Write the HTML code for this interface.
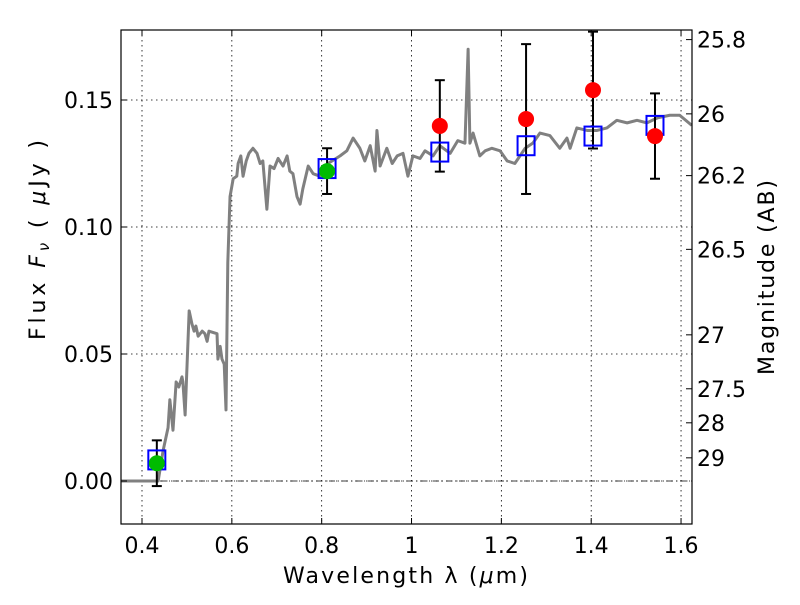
<!DOCTYPE html>
<html><head><meta charset="utf-8"><style>
body{margin:0;background:#fff;width:800px;height:600px;overflow:hidden}
svg text{font-family:"DejaVu Sans","Liberation Sans",sans-serif;fill:#000}
</style></head><body>
<svg id="chart" width="800" height="600" xmlns="http://www.w3.org/2000/svg"></svg>
<script>
const specW=[0.353,0.436,0.447,0.458,0.462,0.469,0.476,0.482,0.489,0.491,0.496,0.505,0.511,0.516,0.520,0.525,0.534,0.540,0.545,0.549,0.567,0.569,0.574,0.578,0.583,0.587,0.591,0.596,0.603,0.611,0.614,0.620,0.625,0.632,0.638,0.647,0.656,0.663,0.669,0.678,0.685,0.694,0.703,0.714,0.723,0.729,0.736,0.745,0.752,0.758,0.770,0.781,0.796,0.814,0.841,0.856,0.870,0.885,0.896,0.908,0.919,0.923,0.930,0.945,0.957,0.968,0.981,0.992,1.003,1.019,1.030,1.048,1.063,1.086,1.103,1.119,1.126,1.130,1.137,1.152,1.164,1.179,1.197,1.213,1.230,1.253,1.270,1.286,1.308,1.330,1.346,1.353,1.368,1.391,1.413,1.435,1.457,1.480,1.502,1.524,1.548,1.575,1.597,1.624];
const specF=[0.000,0.000,0.012,0.021,0.032,0.020,0.039,0.037,0.041,0.039,0.026,0.067,0.062,0.059,0.061,0.057,0.059,0.058,0.055,0.059,0.058,0.048,0.053,0.048,0.046,0.028,0.086,0.112,0.119,0.120,0.125,0.128,0.120,0.126,0.129,0.131,0.129,0.125,0.126,0.107,0.124,0.123,0.127,0.124,0.128,0.122,0.121,0.112,0.109,0.115,0.124,0.121,0.120,0.125,0.128,0.130,0.135,0.131,0.126,0.132,0.122,0.138,0.124,0.131,0.125,0.128,0.129,0.120,0.128,0.127,0.130,0.128,0.132,0.129,0.134,0.133,0.170,0.133,0.137,0.128,0.130,0.131,0.130,0.126,0.125,0.131,0.133,0.137,0.136,0.131,0.135,0.131,0.139,0.138,0.138,0.139,0.142,0.141,0.142,0.141,0.143,0.144,0.144,0.140];
const photW=[0.433,0.812,1.063,1.255,1.404,1.542];
const modelF=[0.0083,0.123,0.1295,0.132,0.1358,0.140];
const obsF=[0.007,0.122,0.1398,0.1425,0.1539,0.1358];
const obsErr=[0.009,0.009,0.018,0.0295,0.023,0.0168];
const obsColor=["#00bb00","#00bb00","#ff0000","#ff0000","#ff0000","#ff0000"];
const xTicks=[0.4,0.6,0.8,1.0,1.2,1.4,1.6];
const xTickLabels=["0.4","0.6","0.8","1","1.2","1.4","1.6"];
const yTicks=[0,0.05,0.10,0.15];
const yTickLabels=["0.00","0.05","0.10","0.15"];
const magTicks=[25.8,26,26.2,26.5,27,27.5,28,29];
const magLabels=["25.8","26","26.2","26.5","27","27.5","28","29"];

const L=121,R=692,T=30,B=524;
const X=w=>142+(w-0.4)*449.2;
const Y=f=>481-f*2540;
const svg=document.getElementById('chart');
const NS='http://www.w3.org/2000/svg';
function mk(tag,attrs,parent){const e=document.createElementNS(NS,tag);for(const k in attrs)e.setAttribute(k,attrs[k]);(parent||svg).appendChild(e);return e;}

const clip=mk('clipPath',{id:'c'});mk('rect',{x:L,y:T,width:R-L,height:B-T},clip);
xTicks.forEach((t,i)=>{const g=mk('line',{x1:X(t),x2:X(t),y1:T,y2:B,stroke:'#000','stroke-width':0.8,'stroke-dasharray':'1.5,3.5'});
});
yTicks.forEach(t=>{const g=mk('line',{x1:L,x2:R,y1:Y(t),y2:Y(t),stroke:'#000','stroke-width':0.8,'stroke-dasharray':'1.5,3.5'});
});
const z=mk('line',{x1:L,x2:R,y1:Y(0),y2:Y(0),stroke:'#000','stroke-width':0.8,'stroke-dasharray':'6,3,1,3'});

const sp=mk('polyline',{points:specW.map((w,i)=>X(w)+','+Y(specF[i])).join(' '),fill:'none',stroke:'#808080','stroke-width':3,'stroke-linejoin':'round','clip-path':'url(#c)'});

photW.forEach((w,i)=>{
 const x=X(w);
 const e=mk('g',{'clip-path':'url(#c)'});
 
 const y1=Y(obsF[i]+obsErr[i]),y2=Y(obsF[i]-obsErr[i]);
 mk('line',{x1:x,x2:x,y1:y1,y2:y2,stroke:'#000','stroke-width':2},e);
 mk('line',{x1:x-5,x2:x+5,y1:y1,y2:y1,stroke:'#000','stroke-width':2},e);
 mk('line',{x1:x-5,x2:x+5,y1:y2,y2:y2,stroke:'#000','stroke-width':2},e);
 const s=mk('rect',{x:x-8.5,y:Y(modelF[i])-9.5,width:17,height:19,fill:'none',stroke:'#0000ff','stroke-width':2});
 
 const c=mk('circle',{cx:x,cy:Y(obsF[i]),r:8,fill:obsColor[i]});
 
});
const fr=mk('rect',{x:L,y:T,width:R-L,height:B-T,fill:'none',stroke:'#000','stroke-width':1.2});

xTicks.forEach((t,i)=>{const x=X(t);
 mk('line',{x1:x,x2:x,y1:B,y2:B-6,stroke:'#000'});mk('line',{x1:x,x2:x,y1:T,y2:T+6,stroke:'#000'});
 const tx=mk('text',{x:x,y:553,'font-size':22,'text-anchor':'middle'});tx.textContent=xTickLabels[i];
 });
yTicks.forEach((t,i)=>{const y=Y(t);
 mk('line',{x1:L,x2:L+6,y1:y,y2:y,stroke:'#000'});
 const tx=mk('text',{x:113,y:y+8,'font-size':22,'text-anchor':'end'});tx.textContent=yTickLabels[i];
 });
magTicks.forEach((m,i)=>{const y=Y(Math.pow(10,(23.9-m)/2.5));
 mk('line',{x1:R,x2:R-6,y1:y,y2:y,stroke:'#000'});
 const tx=mk('text',{x:697,y:y+8,'font-size':22,'text-anchor':'start'});tx.textContent=magLabels[i];
 });
</script>
<svg style="position:absolute;left:0;top:0" width="800" height="600">
<text x="283" y="583" font-size="22" textLength="245" lengthAdjust="spacing">Wavelength  λ (<tspan font-style="italic">μ</tspan>m)</text>
<text transform="translate(45,340) rotate(-90)" font-size="22" textLength="200" lengthAdjust="spacing">Flux  <tspan font-style="italic">F</tspan><tspan font-style="italic" font-size="15" dy="4">ν</tspan><tspan dy="-4">  (  </tspan><tspan font-style="italic">μ</tspan>Jy )</text>
<text transform="translate(774,375) rotate(-90)" font-size="22" textLength="195" lengthAdjust="spacing">Magnitude (AB)</text>
</svg>
</body></html>
